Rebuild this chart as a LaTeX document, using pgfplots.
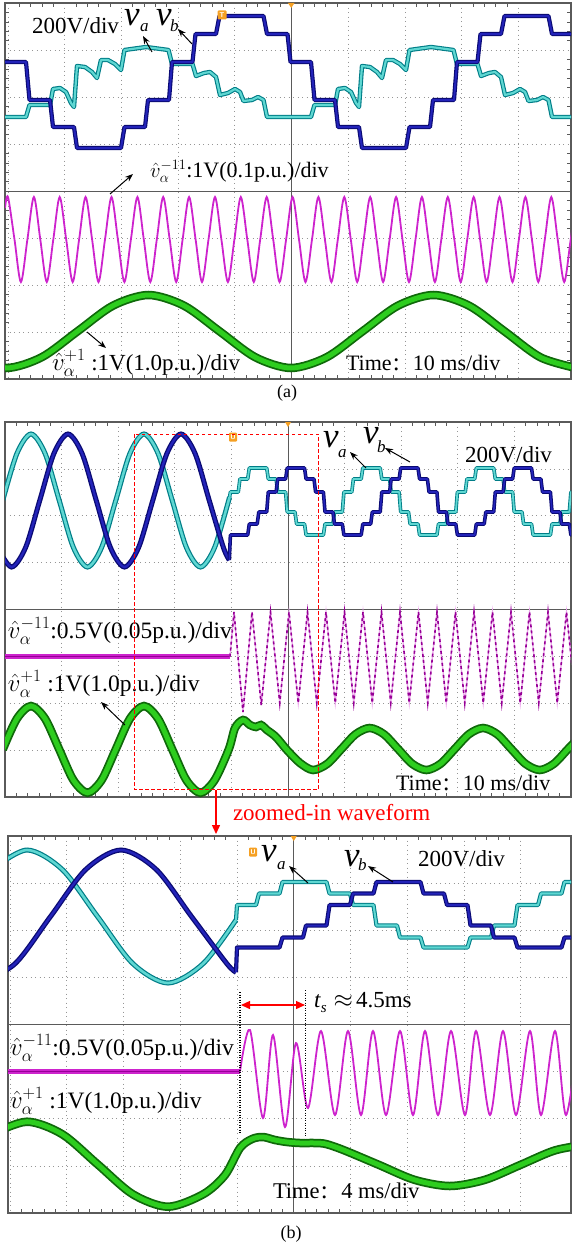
\documentclass[border=0pt]{standalone}
\usepackage{fontspec}
\setmainfont{Liberation Serif}
\usepackage{pgfplots}
\pgfplotsset{compat=1.18}
\usepackage{pgfplotstable}
\usetikzlibrary{arrows.meta}

\definecolor{cyU}{RGB}{0,125,135}
\definecolor{cyC}{RGB}{95,215,210}
\definecolor{blU}{RGB}{10,10,115}
\definecolor{blC}{RGB}{35,35,185}
\definecolor{grU}{RGB}{15,105,10}
\definecolor{grC}{RGB}{45,205,30}
\definecolor{mgU}{RGB}{150,0,150}
\definecolor{mgC}{RGB}{205,35,205}
\definecolor{mgL}{RGB}{235,165,235}
\definecolor{scopec}{RGB}{90,90,90}
\definecolor{gridc}{RGB}{150,150,150}
\definecolor{orng}{RGB}{245,160,35}

\newcommand{\fs}[1]{\fontsize{#1}{#1}\selectfont}
\newcommand{\tcolon}{\hspace{0.05em}{\fontsize{25}{25}\selectfont :}\hspace{0.6em}}

\pgfplotsset{
  scopeax/.style={scale only axis, y dir=reverse,
    axis line style={scopec,line width=1.1pt},
    xticklabels={}, yticklabels={}, major tick length=0pt, minor tick length=4pt,
    minor x tick num=4, minor y tick num=4,
    tick style={scopec,line width=0.6pt},
    grid=major,
    major grid style={gridc, line width=0.8pt, dash pattern=on 1.3pt off 3.2pt}},
}

% ---------- panel (a) ----------
\pgfplotstableread[row sep=\\]{x y\\
5 62\\ 26 62\\ 29.5 100\\ 50 100\\ 53 127\\ 74 127\\ 77 148\\ 121 148\\ 124.5 127\\ 145 127\\ 148 100\\ 169 100\\ 172 62\\ 192.5 62\\ 195.5 34\\ 216 34\\ 219.5 16\\ 263.5 16\\ 267 34\\ 287.5 34\\ 290.5 62\\ 311 62\\ 314.5 100\\ 335 100\\ 338 127\\ 359 127\\ 362 148\\ 406 148\\ 409.5 127\\ 430 127\\ 433 100\\ 454 100\\ 457 62\\ 477.5 62\\ 480.5 34\\ 501 34\\ 504.5 16\\ 548.5 16\\ 552 34\\ 571 34\\
}\aBlue
\pgfplotstableread[row sep=\\]{x y\\
5 117\\ 26 117\\ 29.5 105\\ 50 105\\ 53 89\\ 60 88\\ 66 92\\ 71 103\\ 74 107\\ 77 66\\ 85 67\\ 92 72\\ 97 78\\ 101 60\\ 108 60\\ 115 64\\ 121 70\\ 124.5 50\\ 146 47\\ 168.5 50\\ 172 64\\ 192.5 64\\ 196 76\\ 204 73\\ 210 72\\ 216 77\\ 220 95\\ 228 93\\ 235 89\\ 240 92\\ 243.5 101\\ 252 100\\ 258 97\\ 263.5 100\\ 267 117\\ 311 117\\ 314.5 105\\ 335 105\\ 338 89\\ 345 88\\ 351 92\\ 356 103\\ 359 107\\ 362 66\\ 370 67\\ 377 72\\ 382 78\\ 386 60\\ 393 60\\ 400 64\\ 406 70\\ 409.5 50\\ 431 47\\ 453.5 50\\ 457 64\\ 477.5 64\\ 481 76\\ 489 73\\ 495 72\\ 501 77\\ 505 95\\ 513 93\\ 520 89\\ 525 92\\ 528.5 101\\ 537 100\\ 543 97\\ 548.5 100\\ 552 117\\ 571 117\\
}\aCyan
\pgfplotstableread[row sep=\\]{x y\\
5 208\\ 8 197\\ 14.5 239.5\\ 20.9 282\\ 27.4 239.5\\ 33.9 197\\ 40.3 239.5\\ 46.8 282\\ 53.3 239.5\\ 59.7 197\\ 66.2 239.5\\ 72.7 282\\ 79.1 239.5\\ 85.6 197\\ 92.1 239.5\\ 98.5 282\\ 105 239.5\\ 111.5 197\\ 117.9 239.5\\ 124.4 282\\ 130.9 239.5\\ 137.4 197\\ 143.8 239.5\\ 150.3 282\\ 156.8 239.5\\ 163.2 197\\ 169.7 239.5\\ 176.2 282\\ 182.6 239.5\\ 189.1 197\\ 195.6 239.5\\ 202 282\\ 208.5 239.5\\ 215 197\\ 221.4 239.5\\ 227.9 282\\ 234.4 239.5\\ 240.8 197\\ 247.3 239.5\\ 253.8 282\\ 260.2 239.5\\ 266.7 197\\ 273.2 239.5\\ 279.6 282\\ 286.1 239.5\\ 292.6 197\\ 299 239.5\\ 305.5 282\\ 312 239.5\\ 318.4 197\\ 324.9 239.5\\ 331.4 282\\ 337.8 239.5\\ 344.3 197\\ 350.8 239.5\\ 357.2 282\\ 363.7 239.5\\ 370.2 197\\ 376.6 239.5\\ 383.1 282\\ 389.6 239.5\\ 396.1 197\\ 402.5 239.5\\ 409 282\\ 415.5 239.5\\ 421.9 197\\ 428.4 239.5\\ 434.9 282\\ 441.3 239.5\\ 447.8 197\\ 454.3 239.5\\ 460.7 282\\ 467.2 239.5\\ 473.7 197\\ 480.1 239.5\\ 486.6 282\\ 493.1 239.5\\ 499.5 197\\ 506 239.5\\ 512.5 282\\ 518.9 239.5\\ 525.4 197\\ 531.9 239.5\\ 538.3 282\\ 544.8 239.5\\ 551.3 197\\ 557.7 239.5\\ 564.2 282\\ 570.7 239.5\\ 577.2 197\\
}\aMag
\pgfplotstableread[row sep=\\]{x y\\
-29.6 357.3\\ 6 368\\ 41.6 357.3\\ 77.3 331.5\\ 112.9 305.7\\ 148.5 295\\ 184.1 305.7\\ 219.8 331.5\\ 255.4 357.3\\ 291 368\\ 326.6 357.3\\ 362.3 331.5\\ 397.9 305.7\\ 433.5 295\\ 469.1 305.7\\ 504.8 331.5\\ 540.4 357.3\\ 576 368\\
}\aGreen

% ---------- panel (b), 10 ms/div ----------
\pgfplotstableread[row sep=\\]{x y\\
2.75 500.5\\ 16.9 453.5\\ 31 434\\ 45.1 453.5\\ 59.25 500.5\\ 73.4 547.5\\ 87.5 567\\ 101.6 547.5\\ 115.75 500.5\\ 129.9 453.5\\ 144 434\\ 158.1 453.5\\ 172.25 500.5\\ 186.4 547.5\\ 200.5 567\\ 214.6 547.5\\ 229.6 497\\
}\bCyanSine
\pgfplotstableread[row sep=\\]{x y\\
-2.6 547.5\\ 11.5 567\\ 25.6 547.5\\ 39.75 500.5\\ 53.9 453.5\\ 68 434\\ 82.1 453.5\\ 96.25 500.5\\ 110.4 547.5\\ 124.5 567\\ 138.6 547.5\\ 152.75 500.5\\ 166.9 453.5\\ 181 434\\ 195.1 453.5\\ 209.25 500.5\\ 223.4 547.5\\ 229.3 560\\
}\bBlueSine
\pgfplotstableread[row sep=\\]{x y\\
229.6 497\\ 230.4 492\\ 238.3 492\\ 239.9 479\\ 247.7 479\\ 249.3 468\\ 266.7 468\\ 268.3 479\\ 276.1 479\\ 277.7 492\\ 285.6 492\\ 287.2 512\\ 295 512\\ 296.6 524\\ 304.5 524\\ 306.1 535\\ 323.4 535\\ 325 524\\ 332.9 524\\ 334.5 512\\ 342.3 512\\ 343.9 492\\ 351.8 492\\ 353.4 479\\ 361.2 479\\ 362.8 468\\ 380.2 468\\ 381.8 479\\ 389.6 479\\ 391.2 492\\ 399.1 492\\ 400.7 512\\ 408.5 512\\ 410.1 524\\ 418 524\\ 419.6 535\\ 436.9 535\\ 438.5 524\\ 446.4 524\\ 448 512\\ 455.8 512\\ 457.4 492\\ 465.3 492\\ 466.9 479\\ 474.7 479\\ 476.3 468\\ 493.7 468\\ 495.3 479\\ 503.1 479\\ 504.7 492\\ 512.6 492\\ 514.2 512\\ 522 512\\ 523.6 524\\ 531.5 524\\ 533.1 535\\ 550.4 535\\ 552 524\\ 559.9 524\\ 561.5 512\\ 569.3 512\\ 570.9 492\\ 575 492\\
}\bCyanStair
\pgfplotstableread[row sep=\\]{x y\\
229.3 560\\ 230.4 535\\ 247.7 535\\ 249.3 524\\ 257.2 524\\ 258.8 512\\ 266.7 512\\ 268.3 492\\ 276.1 492\\ 277.7 479\\ 285.6 479\\ 287.2 468\\ 304.5 468\\ 306.1 479\\ 314 479\\ 315.6 492\\ 323.4 492\\ 325 512\\ 332.9 512\\ 334.5 524\\ 342.3 524\\ 343.9 535\\ 361.2 535\\ 362.8 524\\ 370.7 524\\ 372.3 512\\ 380.2 512\\ 381.8 492\\ 389.6 492\\ 391.2 479\\ 399.1 479\\ 400.7 468\\ 418 468\\ 419.6 479\\ 427.4 479\\ 429 492\\ 436.9 492\\ 438.5 512\\ 446.4 512\\ 448 524\\ 455.8 524\\ 457.4 535\\ 474.7 535\\ 476.3 524\\ 484.2 524\\ 485.8 512\\ 493.7 512\\ 495.3 492\\ 503.1 492\\ 504.7 479\\ 512.6 479\\ 514.2 468\\ 531.5 468\\ 533.1 479\\ 540.9 479\\ 542.5 492\\ 550.4 492\\ 552 512\\ 559.9 512\\ 561.5 524\\ 569.3 524\\ 570.9 535\\ 575 535\\
}\bBlueStair
\pgfplotstableread[row sep=\\]{x y\\
5 656.5\\ 230 656.5\\
}\bMagFlat
\pgfplotstableread[row sep=\\]{x y\\
230 656.5\\ 234 612\\ 243 712\\ 252 612\\ 261.25 705\\ 270.5 612\\ 279.75 703\\ 289 612\\ 298.25 703\\ 307.5 612\\ 316.75 703\\ 326 612\\ 335.25 703\\ 344.5 612\\ 353.75 703\\ 363 612\\ 372.25 703\\ 381.5 612\\ 390.75 703\\ 400 612\\ 409.25 703\\ 418.5 612\\ 427.75 703\\ 437 612\\ 446.25 703\\ 455.5 612\\ 464.75 703\\ 474 612\\ 483.25 703\\ 492.5 612\\ 501.75 703\\ 511 612\\ 520.25 703\\ 529.5 612\\ 538.75 703\\ 548 612\\ 557.25 703\\ 566.5 612\\ 575.75 703\\
}\bMagOsc
\pgfplotstableread[row sep=\\]{x y\\
2.75 749.4\\ 16.9 718.7\\ 31 706\\ 45.1 718.7\\ 59.25 749.4\\ 73.4 780.1\\ 87.5 792.8\\ 101.6 780.1\\ 115.75 749.4\\ 129.9 718.7\\ 144 706\\ 158.1 718.7\\ 172.25 749.4\\ 186.4 780.1\\ 200.5 792.8\\ 214.6 780.1\\ 228.75 749.4\\ 235 728\\ 243 720\\ 250 725\\ 256 727\\ 261 725\\ 267 730\\ 276 737\\ 287 750\\ 300 763\\ 313.1 770\\ 327.3 763.8\\ 341.4 749\\ 355.6 734.2\\ 369.7 728\\ 383.9 734.2\\ 398.1 749\\ 412.2 763.8\\ 426.4 770\\ 440.5 763.8\\ 454.7 749\\ 468.9 734.2\\ 483 728\\ 497.2 734.2\\ 511.3 749\\ 525.5 763.8\\ 539.7 770\\ 553.8 763.8\\ 568 749\\ 582.2 734.2\\
}\bGreen

% ---------- panel (b), 4 ms/div ----------
\pgfplotstableread[row sep=\\]{x y\\
-8.25 869.5\\ 27 850\\ 62.25 869.5\\ 97.5 916.5\\ 132.75 963.5\\ 168 983\\ 203.25 963.5\\ 236 920\\
}\cCyanSine
\pgfplotstableread[row sep=\\]{x y\\
-20 983\\ 15.25 963.5\\ 50.5 916.5\\ 85.75 869.5\\ 121 850\\ 156.25 869.5\\ 191.5 916.5\\ 226.75 963.5\\ 236 972.2\\
}\cBlueSine
\pgfplotstableread[row sep=\\]{x y\\
236 920\\ 237 905\\ 256 905\\ 259 893.5\\ 279.5 893.5\\ 282.5 882\\ 326.5 882\\ 329.5 893.5\\ 350 893.5\\ 353 905\\ 373.5 905\\ 376.5 925.5\\ 397 925.5\\ 400 937.5\\ 420.5 937.5\\ 423.5 947.5\\ 467.5 947.5\\ 470.5 937.5\\ 491 937.5\\ 494 925.5\\ 514.5 925.5\\ 517.5 905\\ 538 905\\ 541 893.5\\ 561.5 893.5\\ 564.5 882\\ 575 882\\
}\cCyanStair
\pgfplotstableread[row sep=\\]{x y\\
236 972.2\\ 237 947.5\\ 279.5 947.5\\ 282.5 937.5\\ 303 937.5\\ 306 925.5\\ 326.5 925.5\\ 329.5 905\\ 350 905\\ 353 893.5\\ 373.5 893.5\\ 376.5 882\\ 420.5 882\\ 423.5 893.5\\ 444 893.5\\ 447 905\\ 467.5 905\\ 470.5 925.5\\ 491 925.5\\ 494 937.5\\ 514.5 937.5\\ 517.5 947.5\\ 561.5 947.5\\ 564.5 937.5\\ 575 937.5\\
}\cBlueStair
\pgfplotstableread[row sep=\\]{x y\\
8 1071.5\\ 240 1071.5\\
}\cMagFlat
\pgfplotstableread[row sep=\\]{x y\\
240 1071.5\\ 250 1030\\ 263 1118\\ 273 1035\\ 285 1127\\ 296 1043\\ 308 1108\\ 321 1031\\ 335 1115\\ 348 1031\\ 361 1115\\ 373 1031\\ 386 1115\\ 400 1031\\ 413 1115\\ 425 1031\\ 438 1115\\ 451 1031\\ 465 1115\\ 476 1031\\ 490 1115\\ 503 1031\\ 516 1115\\ 530 1031\\ 541 1115\\ 555 1031\\ 566 1115\\ 579 1031\\
}\cMagOsc
\pgfplotstableread[row sep=\\]{x y\\
-8.25 1134.2\\ 27 1121.7\\ 62.25 1134.2\\ 97.5 1164.2\\ 132.75 1194.2\\ 168 1206.7\\ 203.25 1194.2\\ 225 1175\\ 240 1148\\ 252 1139\\ 263 1137\\ 275 1140\\ 287 1142\\ 300 1143\\ 315 1143\\ 326 1144\\ 343.95 1150.2\\ 379.2 1165\\ 414.45 1179.8\\ 449.7 1186\\ 484.95 1179.8\\ 520.2 1165\\ 555.45 1150.2\\ 590.7 1144\\
}\cGreen

\begin{document}
\begin{tikzpicture}[every node/.style={inner sep=0pt, outer sep=0pt},
  blk/.style={black, line width=1pt, -{Stealth[length=8pt,width=6pt]}}]
\useasboundingbox (0,0) rectangle (573pt,-1247pt);

% ===== panel (a) =====
\begin{axis}[scopeax, at={(5pt,-3pt)}, anchor=north west, width=566pt, height=376pt,
  xmin=5, xmax=571, ymin=3, ymax=379,
  xtick={8,64.7,121.4,178.1,234.8,291.5,348.2,404.9,461.6,518.3},
  ytick={3,50,97,144,191,238,285,332,379}]
\draw[scopec, line width=0.9pt] (axis cs:291.5,3) -- (axis cs:291.5,379);
\draw[scopec, line width=0.9pt] (axis cs:5,191) -- (axis cs:571,191);
\addplot[cyU, line width=4.4pt, line join=round] table {\aCyan};
\addplot[cyC, line width=2.2pt, line join=round] table {\aCyan};
\addplot[blU, line width=4.2pt, line join=round] table {\aBlue};
\addplot[blC, line width=2pt, line join=round] table {\aBlue};
\addplot[mgC, line width=1.8pt, smooth] table {\aMag};
\addplot[grU, line width=8.5pt, smooth] table {\aGreen};
\addplot[grC, line width=5pt, smooth] table {\aGreen};
\end{axis}

% ===== panel (b) top =====
\begin{axis}[scopeax, at={(5pt,-422pt)}, anchor=north west, width=566pt, height=375pt,
  xmin=5, xmax=571, ymin=422, ymax=797,
  xtick={5,61.6,118.2,174.8,231.4,288,344.6,401.2,457.8,514.4,571},
  ytick={422,468.9,515.75,562.6,609.5,656.4,703.25,750.1,797}]
\draw[scopec, line width=0.9pt] (axis cs:288,422) -- (axis cs:288,797);
\draw[scopec, line width=0.9pt] (axis cs:5,609.5) -- (axis cs:571,609.5);
\addplot[cyU, line width=5pt, smooth] table {\bCyanSine};
\addplot[cyC, line width=2.6pt, smooth] table {\bCyanSine};
\addplot[blU, line width=5pt, smooth] table {\bBlueSine};
\addplot[blC, line width=2.4pt, smooth] table {\bBlueSine};
\addplot[cyU, line width=3.6pt, line join=round] table {\bCyanStair};
\addplot[cyC, line width=1.8pt, line join=round] table {\bCyanStair};
\addplot[blU, line width=3.6pt, line join=round] table {\bBlueStair};
\addplot[blC, line width=1.6pt, line join=round] table {\bBlueStair};
\addplot[mgC, line width=5pt] table {\bMagFlat};
\addplot[mgU, line width=1pt] table {\bMagFlat};
\addplot[mgL, line width=1.3pt] table {\bMagOsc};
\addplot[mgU, line width=1.6pt, dash pattern=on 3pt off 3pt] table {\bMagOsc};
\addplot[grU, line width=8.5pt, smooth] table {\bGreen};
\addplot[grC, line width=5pt, smooth] table {\bGreen};
\end{axis}

% ===== panel (b) bottom =====
\begin{axis}[scopeax, at={(8pt,-836pt)}, anchor=north west, width=563pt, height=377pt,
  xmin=8, xmax=571, ymin=836, ymax=1213,
  xtick={10,66.75,123.5,180.25,237,293.75,350.5,407.25,464,520.75},
  ytick={836,883.1,930.25,977.4,1024.5,1071.6,1118.75,1165.9,1213}]
\draw[scopec, line width=0.9pt] (axis cs:293.75,836) -- (axis cs:293.75,1213);
\draw[scopec, line width=0.9pt] (axis cs:8,1024.5) -- (axis cs:571,1024.5);
\addplot[cyU, line width=5pt, smooth] table {\cCyanSine};
\addplot[cyC, line width=2.6pt, smooth] table {\cCyanSine};
\addplot[blU, line width=5pt, smooth] table {\cBlueSine};
\addplot[blC, line width=2.4pt, smooth] table {\cBlueSine};
\addplot[cyU, line width=4.2pt, line join=round] table {\cCyanStair};
\addplot[cyC, line width=2.1pt, line join=round] table {\cCyanStair};
\addplot[blU, line width=4.2pt, line join=round] table {\cBlueStair};
\addplot[blC, line width=2pt, line join=round] table {\cBlueStair};
\addplot[mgC, line width=5.5pt] table {\cMagFlat};
\addplot[mgU, line width=1pt] table {\cMagFlat};
\addplot[mgC, line width=1.8pt, smooth] table {\cMagOsc};
\addplot[grU, line width=8.5pt, smooth] table {\cGreen};
\addplot[grC, line width=5pt, smooth] table {\cGreen};
\end{axis}

% ===== scope markers =====
\fill[orng] (288pt,-3pt) -- (294.5pt,-3pt) -- (291.25pt,-8pt) -- cycle;
\fill[orng] (285pt,-422pt) -- (291pt,-422pt) -- (288pt,-427pt) -- cycle;
\fill[orng] (290.75pt,-836pt) -- (296.75pt,-836pt) -- (293.75pt,-841pt) -- cycle;
\node[fill=orng, minimum width=9pt, minimum height=9pt, rounded corners=1pt, text=white, font=\fs{7}\bfseries\sffamily] at (222pt,-15pt) {T};
\node[fill=orng, minimum width=8pt, minimum height=9pt, rounded corners=1pt, text=white, font=\fs{7}\bfseries\sffamily] at (233pt,-437pt) {U};
\node[fill=orng, minimum width=8pt, minimum height=9pt, rounded corners=1pt, text=white, font=\fs{7}\bfseries\sffamily] at (253pt,-852pt) {U};

% ===== labels panel (a) =====
\node[anchor=base west, font=\fs{23}] at (32pt,-34pt) {200V/div};
\node[anchor=base west, font=\fs{35}\itshape] at (124pt,-26pt) {v};
\node[anchor=base west, font=\fs{17}\itshape] at (140pt,-32pt) {a};
\node[anchor=base west, font=\fs{35}\itshape] at (156pt,-26pt) {v};
\node[anchor=base west, font=\fs{17}\itshape] at (170pt,-32pt) {b};
\draw[blk] (152pt,-52pt) -- (143pt,-36pt);
\draw[blk] (192pt,-44pt) -- (178pt,-29pt);
\node[anchor=base west, font=\fs{22}] at (150pt,-177pt) {$\hat{v}_{\alpha}^{-11}$:1V(0.1p.u.)/div};
\draw[blk] (110pt,-194pt) -- (133pt,-174pt);
\node[anchor=base west, font=\fs{23}] at (52pt,-370pt) {$\hat{v}_{\alpha}^{+1}$ :1V(1.0p.u.)/div};
\draw[blk] (87pt,-332pt) -- (106pt,-348pt);
\node[anchor=base west, font=\fs{22}] at (346pt,-370pt) {Time\tcolon 10 ms/div};
\node[anchor=base, font=\fs{18}] at (287pt,-397pt) {(a)};

% ===== labels panel (b) top =====
\node[anchor=base west, font=\fs{35}\itshape] at (323pt,-447pt) {v};
\node[anchor=base west, font=\fs{17}\itshape] at (338pt,-457pt) {a};
\node[anchor=base west, font=\fs{35}\itshape] at (363pt,-443pt) {v};
\node[anchor=base west, font=\fs{17}\itshape] at (377pt,-452pt) {b};
\draw[blk] (366pt,-468pt) -- (350pt,-452pt);
\draw[blk] (410pt,-462pt) -- (385pt,-448pt);
\node[anchor=base west, font=\fs{23}] at (465pt,-462pt) {200V/div};
\node[anchor=base west, font=\fs{23.5}] at (8pt,-638pt) {$\hat{v}_{\alpha}^{-11}$:0.5V(0.05p.u.)/div};
\node[anchor=base west, font=\fs{23.5}] at (8pt,-691pt) {$\hat{v}_{\alpha}^{+1}$ :1V(1.0p.u.)/div};
\draw[blk] (125pt,-725pt) -- (101pt,-702pt);
\node[anchor=base west, font=\fs{22}] at (396pt,-790pt) {Time\tcolon 10 ms/div};
\draw[red, line width=1.4pt, dash pattern=on 3.5pt off 2.5pt] (134.3pt,-434.3pt) rectangle (318.7pt,-789.3pt);
\draw[red, line width=1.4pt, -{Triangle[length=9pt,width=8pt]}] (216pt,-790pt) -- (216pt,-834pt);
\node[anchor=base west, font=\fs{23}, text=red] at (233pt,-820pt) {zoomed-in waveform};

% ===== labels panel (b) bottom =====
\node[anchor=base west, font=\fs{35}\itshape] at (261pt,-861pt) {v};
\node[anchor=base west, font=\fs{17}\itshape] at (277pt,-869pt) {a};
\node[anchor=base west, font=\fs{35}\itshape] at (344pt,-866pt) {v};
\node[anchor=base west, font=\fs{17}\itshape] at (358pt,-870pt) {b};
\draw[blk] (308pt,-883pt) -- (289pt,-866pt);
\draw[blk] (393pt,-882pt) -- (368pt,-866pt);
\node[anchor=base west, font=\fs{23}] at (418pt,-866pt) {200V/div};
\draw[black, line width=1.2pt, dash pattern=on 1.2pt off 1.3pt] (240pt,-992pt) -- (240pt,-1133pt);
\draw[black, line width=1.2pt, dash pattern=on 1.2pt off 1.3pt] (305.7pt,-990pt) -- (305.7pt,-1137pt);
\draw[red, line width=1.4pt, {Triangle[length=9pt,width=8pt]}-{Triangle[length=9pt,width=8pt]}] (241pt,-1005pt) -- (305pt,-1005pt);
\node[anchor=base west, font=\fs{23}] at (314pt,-1007pt) {\textit{t}\raisebox{-5pt}{\fs{15}\textit{s}}\hspace{7pt}$\approx$\hspace{3pt}4.5ms};
\node[anchor=base west, font=\fs{23.5}] at (10pt,-1055pt) {$\hat{v}_{\alpha}^{-11}$:0.5V(0.05p.u.)/div};
\node[anchor=base west, font=\fs{23.5}] at (10pt,-1108pt) {$\hat{v}_{\alpha}^{+1}$ :1V(1.0p.u.)/div};
\node[anchor=base west, font=\fs{22.5}] at (273pt,-1198pt) {Time\tcolon 4 ms/div};
\node[anchor=base, font=\fs{18}] at (291pt,-1238pt) {(b)};
\end{tikzpicture}
\end{document}
